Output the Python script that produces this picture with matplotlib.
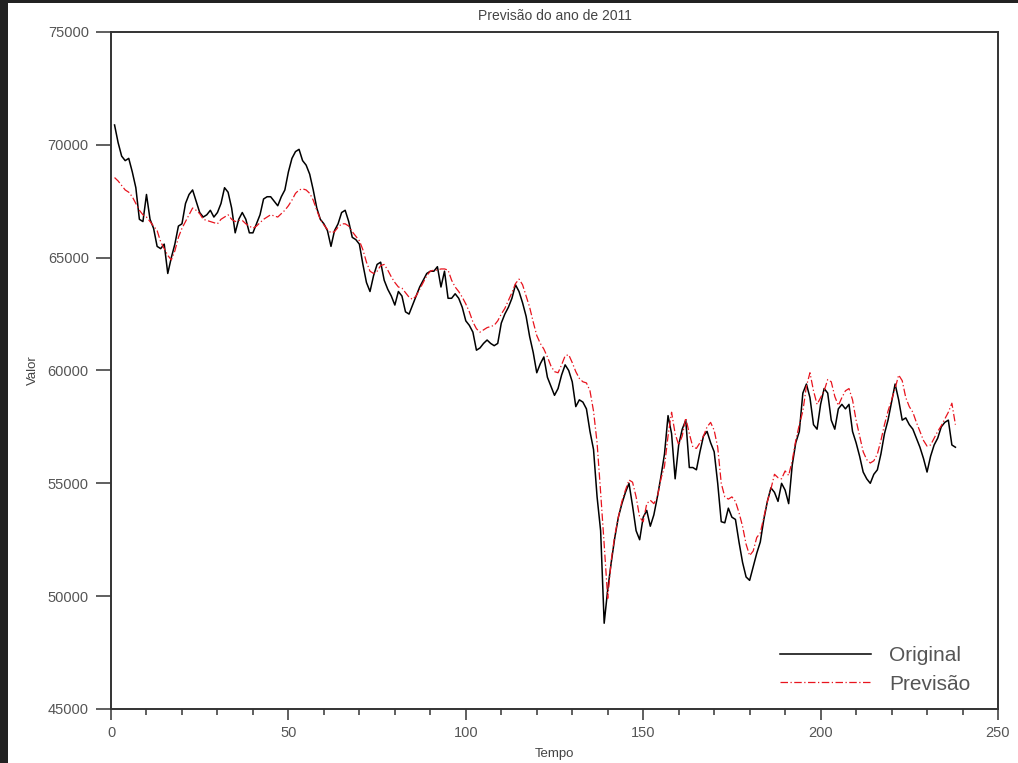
import numpy as np
import matplotlib
matplotlib.use("Agg")
import matplotlib.pyplot as plt
from matplotlib.patches import Rectangle

# values, one per day (Tempo 1..238)
tempo = np.arange(1, 239)

original = [
    70880, 70100, 69500, 69300, 69400, 68800, 68100, 66700, 66600, 67800,
    66700, 66300, 65500, 65400, 65600, 64300, 65000, 65600, 66400, 66500,
    67400, 67800, 68000, 67500, 67000, 66800, 66900, 67100, 66800, 67000,
    67400, 68100, 67900, 67200, 66100, 66700, 67000, 66700, 66100, 66100,
    66500, 66900, 67600, 67700, 67700, 67500, 67300, 67700, 68000, 68800,
    69400, 69700, 69800, 69300, 69100, 68700, 68000, 67200, 66700, 66500,
    66200, 65500, 66200, 66500, 67000, 67100, 66600, 65900, 65800, 65600,
    64700, 63900, 63500, 64200, 64700, 64800, 64000, 63600, 63300, 62900,
    63500, 63300, 62600, 62500, 62900, 63300, 63700, 64000, 64300, 64400,
    64400, 64600, 63700, 64400, 63200, 63200, 63400, 63200, 62800, 62200,
    62000, 61700, 60900, 61000, 61200, 61350, 61200, 61100, 61200, 62100,
    62500, 62800, 63200, 63800, 63500, 63000, 62400, 61500, 60800, 59900,
    60300, 60600, 59700, 59300, 58900, 59200, 59800, 60250, 60000, 59500,
    58400, 58700, 58600, 58300, 57300, 56500, 54400, 52900, 48800, 50300,
    51500, 52600, 53500, 54100, 54600, 55000, 54000, 52900, 52500, 53500,
    53800, 53100, 53600, 54400, 55300, 56300, 58000, 57200, 55200, 56700,
    57400, 57800, 55700, 55700, 55600, 56400, 57100, 57300, 56800, 56400,
    55000, 53300, 53250, 53900, 53500, 53400, 52400, 51500, 50850, 50700,
    51300, 51900, 52400, 53400, 54200, 54800, 54600, 54200, 55000, 54700,
    54100, 55800, 56800, 57300, 59000, 59400, 58800, 57600, 57400, 58500,
    59200, 59000, 57800, 57400, 58300, 58500, 58300, 58500, 57300, 56800,
    56200, 55500, 55200, 55000, 55400, 55600, 56300, 57200, 57800, 58600,
    59400, 58700, 57800, 57900, 57600, 57400, 57000, 56600, 56100, 55500,
    56200, 56700, 57000, 57500, 57700, 57800, 56700, 56600,
]

previsao = [
    68550, 68400, 68200, 68000, 67900, 67700, 67400, 67100, 66900, 66800,
    66600, 66400, 66200, 65700, 65400, 65100, 64900, 65300, 65900, 66300,
    66600, 66900, 67200, 67100, 66950, 66700, 66650, 66600, 66550, 66500,
    66700, 66800, 66900, 66700, 66600, 66650, 66650, 66500, 66400, 66300,
    66400, 66550, 66700, 66800, 66900, 66850, 66800, 66950, 67100, 67300,
    67550, 67850, 68000, 68050, 68000, 67850, 67550, 67100, 66700, 66450,
    66250, 66100, 66150, 66350, 66500, 66500, 66400, 66150, 65950, 65750,
    65350, 64800, 64400, 64300, 64400, 64650, 64700, 64450, 64150, 63900,
    63700, 63650, 63450, 63250, 63150, 63300, 63600, 63900, 64200, 64400,
    64450, 64450, 64500, 64500, 64450, 64000, 63700, 63500, 63250, 62950,
    62600, 62150, 61850, 61700, 61800, 61900, 61950, 62000, 62200, 62500,
    62750, 63100, 63450, 63850, 64050, 63800, 63300, 62800, 62150, 61550,
    61200, 60950, 60600, 60200, 59950, 59900, 60250, 60650, 60700, 60350,
    59950, 59650, 59500, 59450, 59100, 58200, 56800, 54600, 52300, 49900,
    51600, 52700, 53500, 54200, 54700, 55150, 55050, 54400, 53500, 53300,
    54100, 54250, 54100, 54400, 55200, 55750, 57100, 58150, 57200, 56700,
    57100, 57900, 57200, 56600, 56550, 56800, 57100, 57500, 57700, 57350,
    56600, 55000, 54400, 54300, 54400, 54200, 53700, 53100, 52300, 51800,
    52000, 52600, 52800, 53500, 54200, 54750, 55400, 55250, 55200, 55550,
    55350, 56000, 56900, 57600, 58200, 59300, 59900, 59100, 58500, 58800,
    59100, 59600, 59500, 58850, 58450, 58800, 59100, 59200, 58700, 57800,
    57100, 56400, 56050, 55900, 56000, 56300, 56900, 57600, 58200, 58700,
    59200, 59800, 59550, 58800, 58400, 58150, 57700, 57300, 56900, 56650,
    56700, 57000, 57300, 57550, 57850, 58150, 58550, 57600,
]

x_ticks = [0, 50, 100, 150, 200, 250]
y_ticks = [45000, 50000, 55000, 60000, 65000, 70000, 75000]


def main():
    plt.rcParams['font.family'] = ['Liberation Sans', 'DejaVu Sans']
    fig = plt.figure(figsize=(10.18, 7.63), dpi=100, facecolor='#222222')
    # white page inside the dark screenshot border
    page = Rectangle((8 / 1018, 0), 1, 1 - 3 / 763, transform=fig.transFigure,
                     facecolor='white', edgecolor='none', zorder=-10)
    fig.add_artist(page)

    ax = fig.add_axes([111 / 1018, 1 - 709 / 763, 887 / 1018, 677 / 763])
    ax.set_zorder(1)
    ax.plot(tempo, original, color='black', lw=1.1, label='Original')
    ax.plot(tempo, previsao, color='#e8141e', lw=0.9, ls=(0, (6, 2, 1, 2)), label='Previsão')

    ax.set_xlim(0, 250)
    ax.set_ylim(45000, 75000)
    ax.set_xticks(x_ticks)
    ax.set_xticks(np.arange(0, 251, 10), minor=True)
    ax.set_yticks(y_ticks)
    ax.set_yticklabels([str(v) for v in y_ticks])

    tick_col = '#444444'
    ax.tick_params(axis='x', which='major', direction='out', length=8, width=1.2,
                   color=tick_col, labelsize=10.5, labelcolor='#555555', pad=4)
    ax.tick_params(axis='x', which='minor', direction='out', length=4, width=1.2, color=tick_col)
    ax.tick_params(axis='y', which='major', direction='out', length=11, width=1.2,
                   color=tick_col, labelsize=10.5, labelcolor='#555555', pad=5)
    for s in ax.spines.values():
        s.set_linewidth(1.4)
        s.set_color('#333333')

    ax.set_title('Previsão do ano de 2011', fontsize=10, color='#444444', pad=9)
    ax.set_xlabel('Tempo', fontsize=9.5, color='#444444', labelpad=6)
    ax.set_ylabel('Valor', fontsize=9.5, color='#444444', labelpad=6)

    leg = ax.legend(loc='lower right', bbox_to_anchor=(0.99, -0.005), frameon=False,
                    fontsize=15, handlelength=4.4, handletextpad=0.85, labelspacing=0.45)
    for t in leg.get_texts():
        t.set_color('#555555')

    fig.savefig('out.png', dpi=100, facecolor=fig.get_facecolor())


if __name__ == "__main__":
    main()
